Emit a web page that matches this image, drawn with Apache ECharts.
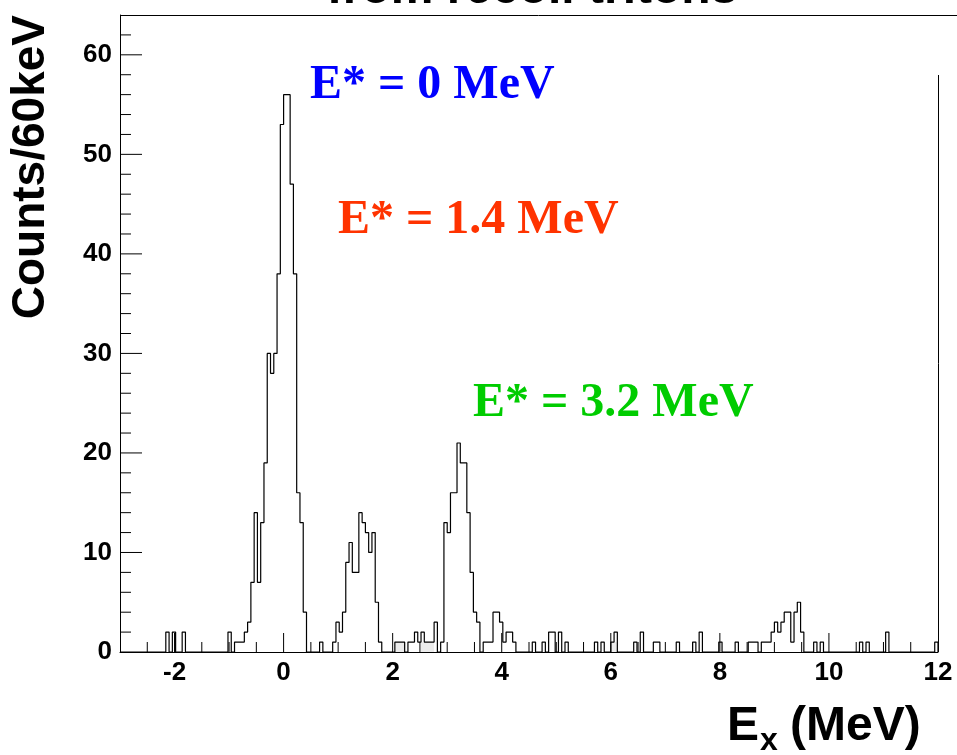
<!DOCTYPE html>
<html>
<head>
<meta charset="utf-8">
<script src="https://cdn.jsdelivr.net/npm/echarts@6/dist/echarts.min.js"></script>
<style>
  html, body { margin: 0; padding: 0; background: #fff; }
  #chart { width: 957px; height: 755px; }
</style>
</head>
<body>
<div id="chart"></div>
<script>
// Excitation-energy spectrum, 60 keV bins from -3 to 12 MeV
const binLow = -3;
const binWidth = 0.06;

// Counts per bin, 25 bins (1.5 MeV) per row
const counts = [
  0,0,0,0,0,0,0,0,0,0, 0,0,0,0,2,0,2,0,0,2, 0,0,0,0,0,            // -3.00 .. -1.50
  0,0,0,0,0,0,0,0, 2,0,1,1,1,2,3,7,14,7,13,19,30,28,30,38,53,     // -1.50 .. 0.00
  56,56,47,38,16,13,4,0,0,0,0,1,0,0,0,1,3,2,4,9,11,8,8,14,13,     //  0.00 .. 1.50
  12,10,12,5,1,0,0,0,0,1,1,1,0,1,1,2,1,2,1,1,1,3,0,1,13,          //  1.50 .. 3.00
  12,16,16,21,19,19,14,8,4,3,0,1,1,1,4,4,3,1,2,2,1,0,0,0,0,       //  3.00 .. 4.50
  0,1,0,0,1,0,2,2,0,2,0,1,0,0,0,0,0,0,0,0,1,0,1,0,0,              //  4.50 .. 6.00
  1,2,0,0,0,0,0,1,0,2,0,0,0,1,1,0,0,0,0,0,1,0,0,0,0,              //  6.00 .. 7.50
  1,0,2,0,0,0,0,0,1,0,0,0,0,1,0,0,0,1,1,1,0,1,1,1,2,              //  7.50 .. 9.00
  3,2,3,4,4,1,4,5,2,0,0,0,1,0,1,0,0,0,0,0,0,0,0,0,0,              //  9.00 .. 10.50
  0,1,0,1,0,0,0,0,0,2,0,0,0,0,0,0,0,0,0,0,0,0,0,0,1               // 10.50 .. 12.00
];

// Light filled background histogram (bin index, counts)
const bgBins   = [84, 85, 86, 92, 93, 94, 95, 150, 151];
const bgCounts = [1, 1, 1, 1, 1, 1, 1, 1, 1];

const xLabels = [-2, 0, 2, 4, 6, 8, 10, 12];
const yLabels = [0, 10, 20, 30, 40, 50, 60];

const peakTexts  = ['E* = 0 MeV', 'E* = 1.4 MeV', 'E* = 3.2 MeV'];
const peakColors = ['#0000ff', '#ff3300', '#00cc00'];

const xMin = -3, xMax = 12, yMin = 0, yMax = 64;

const SANS  = '"Liberation Sans", Arial, Helvetica, sans-serif';
const SERIF = '"Liberation Serif", "Times New Roman", serif';

// Step outline points at bin edges
function stepPoints(values) {
  const pts = values.map((c, i) => [+(binLow + i * binWidth).toFixed(4), c]);
  pts.push([+(binLow + values.length * binWidth).toFixed(4), 0]);
  return pts;
}

const bgFull = new Array(counts.length).fill(0);
bgBins.forEach((b, k) => { bgFull[b] = bgCounts[k]; });

// Tick marks drawn inside the frame
const xTicks = [];
for (let k = 1; k < 30; k++) {
  const v = xMin + k * 0.5;
  xTicks.push([v, Math.abs(v % 2) < 1e-9 ? 1 : 0]);
}
const yTicks = [];
for (let v = 2; v < yMax; v += 2) {
  yTicks.push([v, v % 10 === 0 ? 1 : 0]);
}

const chart = echarts.init(document.getElementById('chart'), null, { renderer: 'canvas' });

chart.setOption({
  animation: false,
  backgroundColor: '#fff',
  grid: { left: 120, top: 15, width: 818, height: 637, containLabel: false },
  xAxis: {
    type: 'value', min: xMin, max: xMax, interval: 1,
    axisLine: { show: true, onZero: false, lineStyle: { color: '#000', width: 1 } },
    axisTick: { show: false },
    splitLine: { show: false },
    axisLabel: {
      margin: 8, color: '#000', fontFamily: SANS, fontWeight: 'bold', fontSize: 26,
      formatter: v => (xLabels.indexOf(v) >= 0 ? String(v) : '')
    }
  },
  yAxis: {
    type: 'value', min: yMin, max: yMax, interval: 10,
    axisLine: { show: true, onZero: false, lineStyle: { color: '#000', width: 1 } },
    axisTick: { show: false },
    splitLine: { show: false },
    axisLabel: {
      margin: 8, color: '#000', fontFamily: SANS, fontWeight: 'bold', fontSize: 26,
      formatter: v => (yLabels.indexOf(v) >= 0 ? String(v) : '')
    }
  },
  series: [
    {
      name: 'background',
      type: 'line', step: 'end', symbol: 'none', silent: true, z: 1,
      data: stepPoints(bgFull),
      lineStyle: { width: 0, color: '#e8e8e8' },
      areaStyle: { color: '#ececec', opacity: 1 }
    },
    {
      name: 'counts',
      type: 'line', step: 'end', symbol: 'none', silent: true, z: 3,
      data: stepPoints(counts),
      lineStyle: { width: 1.2, color: '#000' }
    },
    {
      name: 'xticks',
      type: 'custom', silent: true, z: 4,
      data: xTicks,
      renderItem: (params, api) => {
        const p = api.coord([api.value(0), yMin]);
        const len = api.value(1) ? 19 : 10;
        return { type: 'line', shape: { x1: p[0], y1: p[1], x2: p[0], y2: p[1] - len },
                 style: { stroke: '#000', lineWidth: 1 } };
      }
    },
    {
      name: 'yticks',
      type: 'custom', silent: true, z: 4,
      data: yTicks.map(t => [xMin, t[0], t[1]]),
      renderItem: (params, api) => {
        const p = api.coord([xMin, api.value(1)]);
        const len = api.value(2) ? 22 : 11;
        return { type: 'line', shape: { x1: p[0], y1: p[1], x2: p[0] + len, y2: p[1] },
                 style: { stroke: '#000', lineWidth: 1 } };
      }
    }
  ],
  graphic: [
    // frame lines
    { type: 'line', shape: { x1: 120, y1: 15.5, x2: 957, y2: 15.5 }, style: { stroke: '#000', lineWidth: 1 }, z: 10 },
    { type: 'line', shape: { x1: 938.5, y1: 75, x2: 938.5, y2: 652 }, style: { stroke: '#000', lineWidth: 1 }, z: 10 },
    // title, partly above the page
    { type: 'text', x: 532, y: -10, z: 10,
      style: { text: 'from recoil tritons', font: 'bold 48px ' + SANS, fill: '#000', align: 'center', verticalAlign: 'middle' } },
    // peak annotations
    { type: 'text', x: 310, y: 86, z: 10,
      style: { text: peakTexts[0], font: 'bold 48px ' + SERIF, fill: peakColors[0], align: 'left', verticalAlign: 'middle' } },
    { type: 'text', x: 338, y: 221, z: 10,
      style: { text: peakTexts[1], font: 'bold 48px ' + SERIF, fill: peakColors[1], align: 'left', verticalAlign: 'middle' } },
    { type: 'text', x: 473, y: 404, z: 10,
      style: { text: peakTexts[2], font: 'bold 48px ' + SERIF, fill: peakColors[2], align: 'left', verticalAlign: 'middle' } },
    // y axis title
    { type: 'text', x: 31, y: 15, rotation: Math.PI / 2, z: 10,
      style: { text: 'Counts/60keV', font: 'bold 46px ' + SANS, fill: '#000', align: 'right', verticalAlign: 'middle' } },
    // x axis title: E with subscript x, then unit
    { type: 'text', x: 727, y: 727, z: 10,
      style: { text: 'E', font: 'bold 48px ' + SANS, fill: '#000', align: 'left', verticalAlign: 'middle' } },
    { type: 'text', x: 760, y: 741, z: 10,
      style: { text: 'x', font: 'bold 32px ' + SANS, fill: '#000', align: 'left', verticalAlign: 'middle' } },
    { type: 'text', x: 790, y: 727, z: 10,
      style: { text: '(MeV)', font: 'bold 48px ' + SANS, fill: '#000', align: 'left', verticalAlign: 'middle' } }
  ]
});
</script>
</body>
</html>
